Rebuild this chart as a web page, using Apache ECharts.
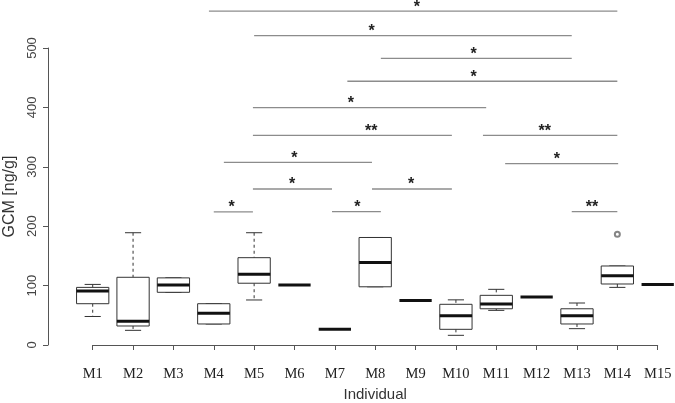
<!DOCTYPE html>
<html>
<head>
<meta charset="utf-8">
<script src="https://cdn.jsdelivr.net/npm/echarts@6/dist/echarts.min.js"></script>
<style>
    html, body { margin: 0; padding: 0; background: #fff; }
    #main { width: 675px; height: 403px; }
</style>
</head>
<body>
<div id="main"></div>
<script>
    // boxplot stats per individual (ng/g)
    var individuals = ['M1', 'M2', 'M3', 'M4', 'M5', 'M6', 'M7', 'M8', 'M9', 'M10', 'M11', 'M12', 'M13', 'M14', 'M15']
    var lowWhisker  = [48,   24.7, 88.7, 35.4, 75.8, 101, 26.4, 98,  75, 16.3, 58.3, 80.8, 27.5, 97,    102]
    var lowerQ      = [69.5, 32,   88.7, 35.4, 104,  101, 26.4, 98,  75, 26.4, 61,   80.8, 35.4, 102.7, 102]
    var medians     = [91,   40,   101,  53.3, 119,  101, 26.4, 139, 75, 49.4, 69,   80.8, 49.4, 116.7, 102]
    var upperQ      = [97,   114,  113,  69.5, 147,  101, 26.4, 181, 75, 68.5, 83.6, 80.8, 61,   133,   102]
    var highWhisker = [102,  189,  113,  69.5, 189,  101, 26.4, 181, 75, 76,   93.7, 80.8, 70.7, 133,   102]
    var outliers = [[14, 186.3]]

    // significance brackets: from / to (individual position), height, star position, label
    var sigFrom  = [3.88, 5.0,   8.14,  7.31, 4.97,  4.97, 10.67, 4.25,  11.22, 4.97,  7.92,  4.0,  6.93,  12.87]
    var sigTo    = [14.0, 12.87, 12.87, 14.0, 10.75, 9.9,  14.0,  7.92,  14.02, 6.93,  9.9,   4.97, 8.14,  14.0]
    var sigY     = [562,  520.7, 482.7, 444,  399.5, 353,  353,   307.6, 305.2, 262.6, 262.6, 224,  224.4, 224.4]
    var sigStarX = [9.03, 7.91,  10.44, 10.44, 7.40, 7.90, 12.20, 6.0,   12.5,  5.94,  8.89,  4.44, 7.56,  13.37]
    var sigText  = ['*', '*', '*', '*', '*', '**', '**', '*', '*', '*', '*', '*', '*', '**']

    var boxData = individuals.map(function (name, i) {
        return [i + 1, lowWhisker[i], lowerQ[i], medians[i], upperQ[i], highWhisker[i]]
    })
    var sigData = sigFrom.map(function (f, i) {
        return [f, sigTo[i], sigY[i], sigStarX[i], i]
    })

    function renderBox(params, api) {
        var x = api.value(0)
        var half = api.size([0.8, 0])[0] / 2
        var cap = half / 2
        var lo = api.coord([x, api.value(1)])
        var q1 = api.coord([x, api.value(2)])
        var med = api.coord([x, api.value(3)])
        var q3 = api.coord([x, api.value(4)])
        var hi = api.coord([x, api.value(5)])
        var stroke = '#333'
        var children = []
        if (hi[1] < q3[1] - 0.5) {
            children.push({ type: 'line', shape: { x1: hi[0], y1: hi[1], x2: q3[0], y2: q3[1] },
                style: { stroke: stroke, lineWidth: 1, lineDash: [3, 3] } })
        }
        if (lo[1] > q1[1] + 0.5) {
            children.push({ type: 'line', shape: { x1: q1[0], y1: q1[1], x2: lo[0], y2: lo[1] },
                style: { stroke: stroke, lineWidth: 1, lineDash: [3, 3] } })
        }
        if (q1[1] - q3[1] > 0.5) {
            children.push({ type: 'line', shape: { x1: hi[0] - cap, y1: hi[1], x2: hi[0] + cap, y2: hi[1] },
                style: { stroke: stroke, lineWidth: 1 } })
            children.push({ type: 'line', shape: { x1: lo[0] - cap, y1: lo[1], x2: lo[0] + cap, y2: lo[1] },
                style: { stroke: stroke, lineWidth: 1 } })
            children.push({ type: 'rect', shape: { x: q3[0] - half, y: q3[1], width: half * 2, height: q1[1] - q3[1] },
                style: { fill: '#fff', stroke: stroke, lineWidth: 1 } })
        }
        children.push({ type: 'line', shape: { x1: med[0] - half, y1: med[1], x2: med[0] + half, y2: med[1] },
            style: { stroke: '#111', lineWidth: 3 } })
        return { type: 'group', children: children }
    }

    function renderSig(params, api) {
        var a = api.coord([api.value(0), api.value(2)])
        var b = api.coord([api.value(1), api.value(2)])
        var s = api.coord([api.value(3), api.value(2)])
        return {
            type: 'group',
            children: [{
                type: 'line',
                shape: { x1: a[0], y1: a[1], x2: b[0], y2: b[1] },
                style: { stroke: '#8c8c8c', lineWidth: 1.3 }
            }, {
                type: 'text',
                x: s[0], y: s[1] - 4,
                style: {
                    text: sigText[api.value(4)],
                    fill: '#222',
                    font: 'bold 16px "Liberation Sans"',
                    textAlign: 'center',
                    textVerticalAlign: 'middle'
                }
            }]
        }
    }

    var chart = echarts.init(document.getElementById('main'))
    chart.setOption({
        backgroundColor: '#fff',
        animation: false,
        // grid spans M1..M15 and 0..500 so the axis lines stop there like in R
        grid: { left: 92.7, right: 17.3, top: 48, bottom: 58, outerBoundsMode: 'none', containLabel: false },
        xAxis: {
            type: 'value',
            min: 1,
            max: 15,
            interval: 1,
            offset: 13,
            name: 'Individual',
            nameLocation: 'middle',
            nameGap: 27,
            nameTextStyle: { fontFamily: 'Liberation Sans', fontSize: 15, color: '#333' },
            axisLine: { show: true, lineStyle: { color: '#555', width: 1 } },
            splitLine: { show: false },
            axisTick: { show: true, length: 5, inside: false, lineStyle: { color: '#555' } },
            axisLabel: {
                margin: 9,
                fontFamily: 'Liberation Serif',
                fontSize: 14.5,
                color: '#222',
                formatter: function (v) { return individuals[Math.round(v) - 1] }
            }
        },
        yAxis: {
            type: 'value',
            min: 0,
            max: 500,
            interval: 100,
            offset: 44.7,
            name: 'GCM [ng/g]',
            nameLocation: 'middle',
            nameGap: 30,
            nameTextStyle: { fontFamily: 'Liberation Sans', fontSize: 16, color: '#333' },
            axisLine: { show: true, lineStyle: { color: '#555', width: 1 } },
            splitLine: { show: false },
            axisTick: { show: true, length: 5, lineStyle: { color: '#555' } },
            axisLabel: {
                rotate: 90,
                margin: 9,
                fontFamily: 'Liberation Sans',
                fontSize: 13,
                color: '#444'
            }
        },
        series: [{
            type: 'custom',
            name: 'GCM',
            renderItem: renderBox,
            encode: { x: 0, y: [1, 2, 3, 4, 5] },
            data: boxData,
            clip: false
        }, {
            type: 'scatter',
            name: 'outlier',
            symbol: 'emptyCircle',
            symbolSize: 5,
            itemStyle: { color: '#666', borderWidth: 1 },
            data: outliers
        }, {
            type: 'custom',
            name: 'significance',
            renderItem: renderSig,
            encode: { x: [0, 1, 3], y: 2 },
            data: sigData,
            clip: false
        }]
    })
</script>
</body>
</html>
